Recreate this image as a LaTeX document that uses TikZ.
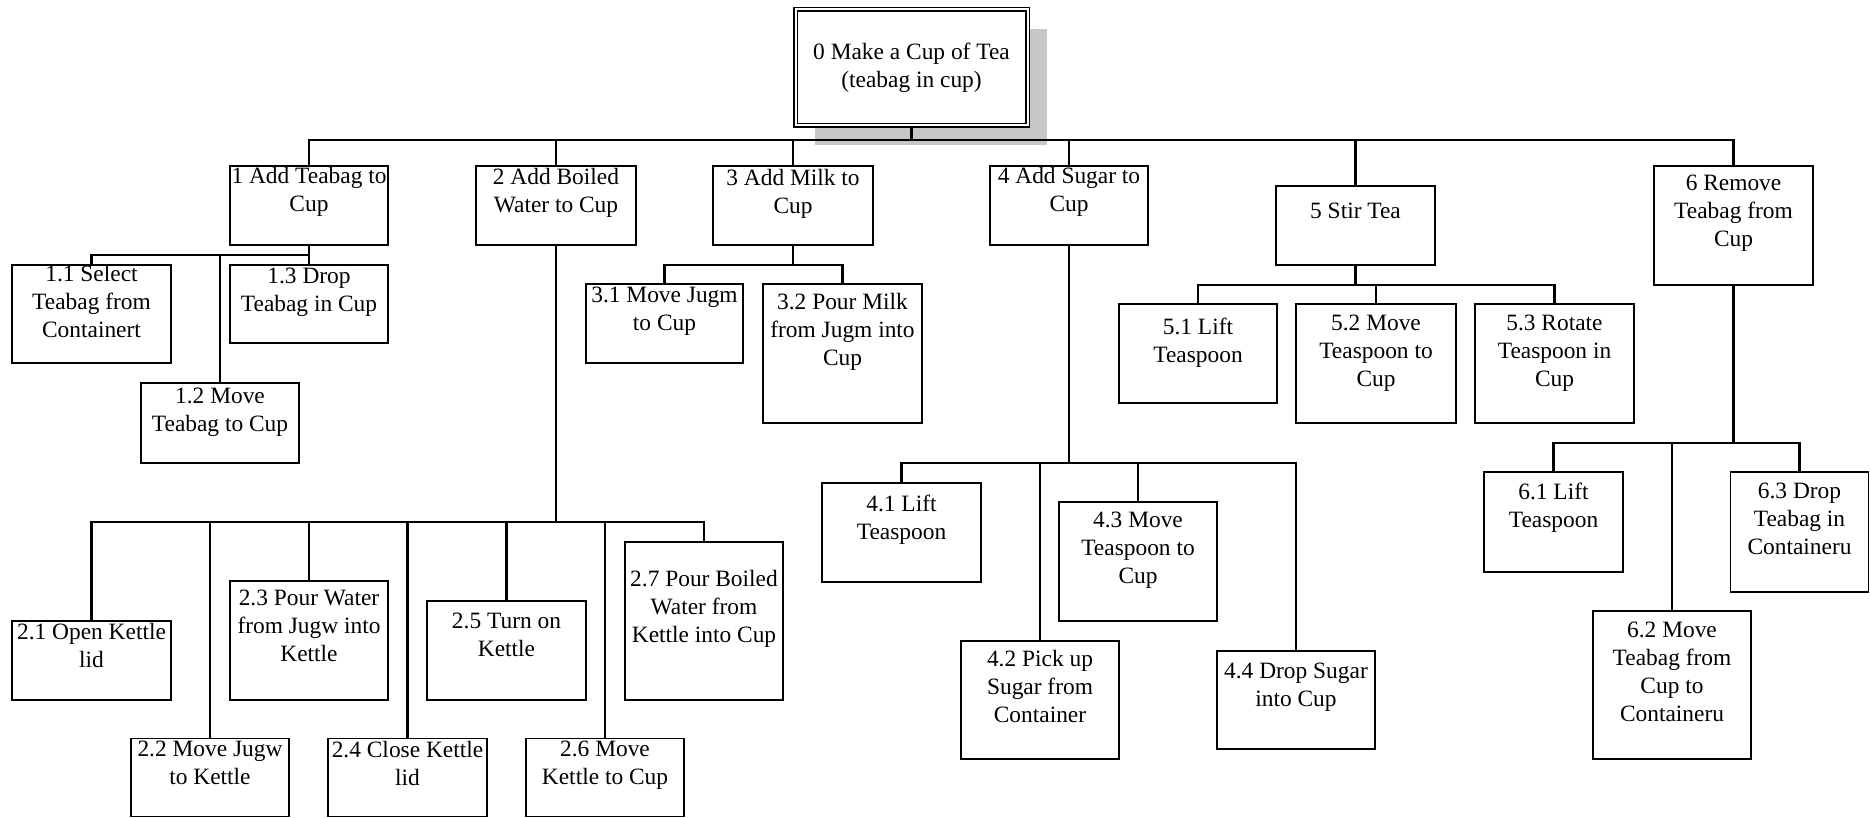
\documentclass[tikz,border=0pt]{standalone}
\usepackage{fontspec}
\setmainfont{Liberation Serif}
\usetikzlibrary{shadows}
% box body: width, height, gap above the first line, text
\newcommand{\taskbox}[4]{\parbox[c][#2][t]{#1}{\centering\vspace*{#3}#4\par}}

\begin{document}
\begin{tikzpicture}[x=0.5pt,y=-0.5pt,
  every node/.style={font=\fontsize{11.7pt}{14pt}\selectfont},
  task/.style={draw, line width=0.95pt, inner sep=0pt, fill=white},
  goal/.style={draw, double, double distance=1pt, line width=0.7pt, fill=white,
    inner sep=0pt, minimum width=116pt, minimum height=58pt, align=center,
    drop shadow={shadow xshift=9.5pt, shadow yshift=-10pt, fill=black!22, opacity=1}},
  link/.style={line width=1.05pt},
  trunk/.style={line width=1.4pt}]

\useasboundingbox (0,0) rectangle (1870,818);

% top goal
\node[goal] (n0) at (911.5,67.5) {0 Make a Cup of Tea\\(teabag in cup)};

% level 1
\node[task] (n1) at (309,205.5)    {\taskbox{79pt}{39.5pt}{0.5pt}{1 Add Teabag to\\Cup}};
\node[task] (n2) at (556,205.5)    {\taskbox{80pt}{39.5pt}{1pt}{2 Add Boiled\\Water to Cup}};
\node[task] (n3) at (793,205.5)    {\taskbox{80pt}{39.5pt}{1.5pt}{3 Add Milk to\\Cup}};
\node[task] (n4) at (1069,205.5)   {\taskbox{79pt}{39.5pt}{0.5pt}{4 Add Sugar to\\Cup}};
\node[task] (n5) at (1355.5,225.5) {\taskbox{79.5pt}{39.5pt}{8.5pt}{5 Stir Tea}};
\node[task] (n6) at (1733.5,225.5) {\taskbox{79.5pt}{59.5pt}{4.5pt}{6 Remove\\Teabag from\\Cup}};

% children of 1
\node[task] (n11) at (91.5,314) {\taskbox{79.5pt}{49pt}{0pt}{1.1 Select\\Teabag from\\Containert}};
\node[task] (n12) at (220,423)  {\taskbox{79pt}{40pt}{2.5pt}{1.2 Move\\Teabag to Cup}};
\node[task] (n13) at (309,304)  {\taskbox{79pt}{39pt}{1.5pt}{1.3 Drop\\Teabag in Cup}};

% children of 2
\node[task] (n21) at (91.5,660.5)  {\taskbox{79.5pt}{39.5pt}{1pt}{2.1 Open Kettle\\lid}};
\node[task] (n22) at (210,777.5)   {\taskbox{79pt}{39pt}{1.5pt}{2.2 Move Jugw\\to Kettle}};
\node[task] (n23) at (309,640.5)   {\taskbox{79pt}{59.5pt}{4.5pt}{2.3 Pour Water\\from Jugw into\\Kettle}};
\node[task] (n24) at (407.5,777.5) {\taskbox{79.5pt}{39pt}{1.5pt}{2.4 Close Kettle\\lid}};
\node[task] (n25) at (506.5,650.5) {\taskbox{79.5pt}{49.5pt}{6pt}{2.5 Turn on\\Kettle}};
\node[task] (n26) at (605,777.5)   {\taskbox{79pt}{39pt}{1.5pt}{2.6 Move\\Kettle to Cup}};
\node[task] (n27) at (704,621)     {\taskbox{79pt}{79pt}{14pt}{2.7 Pour Boiled\\Water from\\Kettle into Cup}};

% children of 3
\node[task] (n31) at (664.5,323.5) {\taskbox{78.5pt}{39.5pt}{1.5pt}{3.1 Move Jugm\\to Cup}};
\node[task] (n32) at (842.5,353.5) {\taskbox{79.5pt}{69.5pt}{4.5pt}{3.2 Pour Milk\\from Jugm into\\Cup}};

% children of 4
\node[task] (n41) at (901.5,532.5) {\taskbox{79.5pt}{49.5pt}{6pt}{4.1 Lift\\Teaspoon}};
\node[task] (n42) at (1040,700)    {\taskbox{79pt}{59pt}{4.5pt}{4.2 Pick up\\Sugar from\\Container}};
\node[task] (n43) at (1138,561.5)  {\taskbox{79pt}{59.5pt}{5pt}{4.3 Move\\Teaspoon to\\Cup}};
\node[task] (n44) at (1296,700)    {\taskbox{79pt}{49pt}{6pt}{4.4 Drop Sugar\\into Cup}};

% children of 5
\node[task] (n51) at (1198,353.5)   {\taskbox{79pt}{49.5pt}{7pt}{5.1 Lift\\Teaspoon}};
\node[task] (n52) at (1376,363.5)   {\taskbox{80pt}{59.5pt}{5.5pt}{5.2 Move\\Teaspoon to\\Cup}};
\node[task] (n53) at (1554.5,363.5) {\taskbox{79.5pt}{59.5pt}{5.5pt}{5.3 Rotate\\Teaspoon in\\Cup}};

% children of 6
\node[task] (n61) at (1553.5,522) {\taskbox{69.5pt}{50pt}{5.5pt}{6.1 Lift\\Teaspoon}};
\node[task] (n62) at (1672,685)   {\taskbox{79pt}{74pt}{5.5pt}{6.2 Move\\Teabag from\\Cup to\\Containeru}};
\node[task] (n63) at (1799.5,532) {\taskbox{69pt}{60pt}{5.5pt}{6.3 Drop\\Teabag in\\Containeru}};

% bus junctions
\coordinate (b0) at (n0.south |- 0,140);
\coordinate (b1) at (n1.south |- 0,255);
\coordinate (b2) at (n2.south |- 0,522);
\coordinate (b3) at (n3.south |- 0,265);
\coordinate (b4) at (n4.south |- 0,463);
\coordinate (b5) at (n5.south |- 0,285);
\coordinate (b6) at (n6.south |- 0,443);

% top level
\draw[trunk] (n0.south) -- (b0);
\draw[trunk] (n1.north |- b0) -- (n6.north |- b0);
\foreach \c in {n1,n2,n3,n4,n5,n6} \draw[link] (b0) -| (\c.north);

% task 1
\draw[link] (n1.south) -- (b1);
\foreach \c in {n11,n12,n13} \draw[link] (b1) -| (\c.north);

% task 2
\draw[trunk] (n2.south) -- (b2);
\draw[trunk] (n21.north |- b2) -- (n27.north |- b2);
\foreach \c in {n21,n22,n23,n24,n25,n26,n27} \draw[link] (b2) -| (\c.north);

% task 3
\draw[link] (n3.south) -- (b3);
\foreach \c in {n31,n32} \draw[link] (b3) -| (\c.north);

% task 4
\draw[trunk] (n4.south) -- (b4);
\draw[trunk] (n41.north |- b4) -- (n44.north |- b4);
\foreach \c in {n41,n42,n43,n44} \draw[link] (b4) -| (\c.north);

% task 5
\draw[link] (n5.south) -- (b5);
\foreach \c in {n51,n52,n53} \draw[link] (b5) -| (\c.north);

% task 6
\draw[trunk] (n6.south) -- (b6);
\foreach \c in {n61,n62,n63} \draw[link] (b6) -| (\c.north);

\end{tikzpicture}
\end{document}
